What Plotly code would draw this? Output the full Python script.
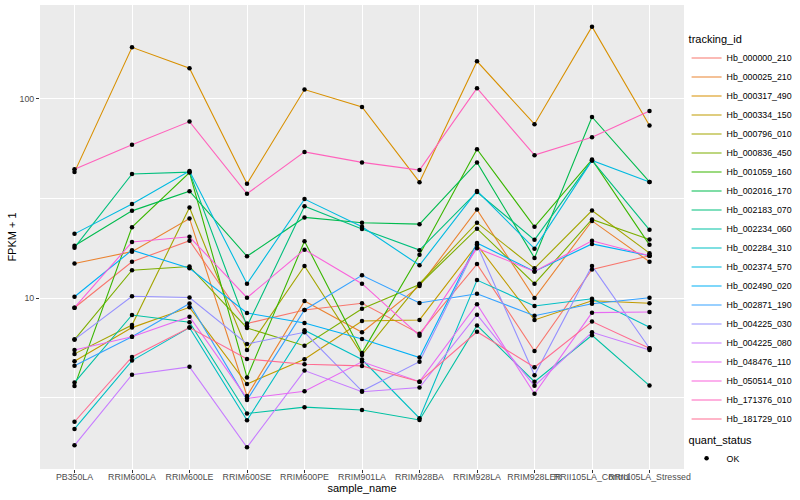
import plotly.graph_objects as go

samples = ["PB350LA", "RRIM600LA", "RRIM600LE", "RRIM600SE", "RRIM600PE", "RRIM901LA",
           "RRIM928BA", "RRIM928LA", "RRIM928LER", "RRII105LA_Control", "RRII105LA_Stressed"]

tracking_ids = ["Hb_000000_210", "Hb_000025_210", "Hb_000317_490", "Hb_000334_150", "Hb_000796_010",
                "Hb_000836_450", "Hb_001059_160", "Hb_002016_170", "Hb_002183_070", "Hb_002234_060",
                "Hb_002284_310", "Hb_002374_570", "Hb_002490_020", "Hb_002871_190", "Hb_004225_030",
                "Hb_004225_080", "Hb_048476_110", "Hb_050514_010", "Hb_171376_010", "Hb_181729_010"]

colors = ["#F8766D", "#EA8331", "#D89000", "#C09B00", "#A3A500", "#7CAE00", "#39B600", "#00BB4E",
          "#00BF7D", "#00C1A3", "#00BFC4", "#00BAE0", "#00B0F6", "#35A2FF", "#9590FF", "#C77CFF",
          "#E76BF3", "#FA62DB", "#FF62BC", "#FF6C91"]

# FPKM + 1 per sample (same order as samples)
Hb_000000_210 = [8.94, 15.2, 19.4, 7.45, 8.71, 9.41, 6.62, 14.8, 5.42, 13.9, 16.3]
Hb_000025_210 = [14.9, 17.1, 25.1, 3.22, 9.66, 6.73, 11.5, 27.8, 10.0, 24.4, 15.2]
Hb_000317_490 = [42.9, 181.7, 142.6, 37.5, 111.5, 91.2, 38.2, 154.6, 74.7, 230.8, 73.6]
Hb_000334_150 = [4.81, 7.10, 8.98, 3.70, 4.92, 7.67, 7.76, 18.5, 7.76, 9.69, 9.41]
Hb_000796_010 = [5.24, 7.32, 28.5, 5.48, 14.5, 5.18, 11.8, 23.9, 14.1, 27.5, 16.8]
Hb_000836_450 = [6.18, 13.8, 14.4, 7.07, 5.76, 8.84, 11.7, 22.3, 11.8, 24.8, 19.7]
Hb_001059_160 = [3.61, 22.7, 42.7, 3.99, 19.3, 5.30, 16.5, 55.9, 22.8, 49.6, 18.5]
Hb_002016_170 = [18.3, 27.4, 34.4, 16.2, 25.4, 23.9, 23.5, 48.0, 15.9, 81.2, 38.3]
Hb_002183_070 = [17.9, 42.0, 42.9, 7.21, 28.9, 22.2, 17.4, 34.1, 19.6, 49.1, 22.0]
Hb_002234_060 = [3.76, 8.22, 7.55, 2.63, 2.83, 2.74, 2.44, 7.28, 3.80, 6.50, 3.63]
Hb_002284_310 = [2.20, 4.85, 7.10, 2.43, 6.89, 4.91, 2.49, 12.3, 9.12, 9.92, 7.13]
Hb_002374_570 = [21.0, 29.7, 43.4, 11.8, 31.4, 22.8, 14.6, 34.5, 17.7, 49.1, 38.3]
Hb_002490_020 = [10.15, 17.4, 14.1, 8.41, 7.49, 6.23, 5.02, 18.9, 13.6, 18.7, 16.3]
Hb_002871_190 = [4.57, 6.39, 9.39, 3.07, 8.71, 13.0, 9.44, 10.5, 8.15, 9.36, 10.03]
Hb_004225_030 = [6.18, 10.2, 10.06, 5.88, 6.73, 3.41, 4.79, 18.5, 4.09, 14.5, 5.59]
Hb_004225_080 = [1.82, 4.12, 4.51, 1.78, 4.32, 3.38, 3.55, 8.24, 3.62, 6.73, 5.48]
Hb_048476_110 = [5.48, 6.39, 8.06, 3.13, 3.40, 4.78, 3.80, 9.30, 3.30, 8.44, 8.51]
Hb_050514_010 = [8.94, 19.1, 20.3, 10.03, 17.5, 11.8, 6.47, 17.8, 13.6, 19.4, 16.3]
Hb_171376_010 = [44.4, 58.8, 77.0, 33.4, 54.2, 48.0, 43.9, 113.2, 52.2, 64.2, 87.0]
Hb_181729_010 = [2.39, 5.06, 7.10, 4.94, 4.65, 4.56, 3.80, 6.77, 4.49, 7.61, 5.59]

series = [Hb_000000_210, Hb_000025_210, Hb_000317_490, Hb_000334_150, Hb_000796_010,
          Hb_000836_450, Hb_001059_160, Hb_002016_170, Hb_002183_070, Hb_002234_060,
          Hb_002284_310, Hb_002374_570, Hb_002490_020, Hb_002871_190, Hb_004225_030,
          Hb_004225_080, Hb_048476_110, Hb_050514_010, Hb_171376_010, Hb_181729_010]

quant_status = "OK"

FONT = "Liberation Sans, Arial, Helvetica, sans-serif"

fig = go.Figure()
for name, vals, col in zip(tracking_ids, series, colors):
    fig.add_trace(go.Scatter(x=samples, y=vals, mode="lines", name=name,
                             line=dict(color=col, width=1.1), legend="legend"))

all_x, all_y = [], []
for vals in series:
    all_x += samples
    all_y += vals
fig.add_trace(go.Scatter(x=all_x, y=all_y, mode="markers", name=quant_status,
                         marker=dict(color="black", size=4.5, symbol="circle"),
                         legend="legend2"))

fig.update_layout(
    width=800, height=500,
    margin=dict(l=40, r=116, t=5, b=31, autoexpand=False),
    paper_bgcolor="white", plot_bgcolor="#EBEBEB",
    font=dict(family=FONT, size=8.8, color="#4D4D4D"),
    showlegend=True,
    legend=dict(title=dict(text="tracking_id", font=dict(size=11, color="black")),
                x=1.004, y=0.948, xanchor="left", yanchor="top",
                font=dict(size=8.8, color="black"), bgcolor="rgba(0,0,0,0)",
                tracegroupgap=0, itemwidth=30),
    legend2=dict(title=dict(text="quant_status", font=dict(size=11, color="black")),
                 x=1.004, y=0.085, xanchor="left", yanchor="top",
                 font=dict(size=8.8, color="black"), bgcolor="rgba(0,0,0,0)"),
)

fig.update_xaxes(type="category", categoryorder="array", categoryarray=samples,
                 range=[-0.6, len(samples) - 0.4], tickangle=0,
                 showgrid=True, gridcolor="white", gridwidth=1.1, zeroline=False,
                 ticks="outside", ticklen=3, tickcolor="#333333", tickwidth=1,
                 tickfont=dict(size=8.8, color="#4D4D4D"), ticklabelstandoff=-4,
                 title=dict(text="sample_name", font=dict(size=11, color="black"), standoff=3),
                 automargin=False, showline=False)

fig.update_yaxes(type="log", range=[0.141, 2.472],
                 tickvals=[10, 100], ticktext=["10", "100"],
                 showgrid=True, gridcolor="white", gridwidth=1.1, zeroline=False,
                 ticks="outside", ticklen=3, tickcolor="#333333", tickwidth=1,
                 tickfont=dict(size=8.8, color="#4D4D4D"),
                 minor=dict(tickvals=[10 ** 0.5, 10 ** 1.5], showgrid=True,
                            gridcolor="white", gridwidth=0.5, ticks=""),
                 title=dict(text="FPKM + 1", font=dict(size=11, color="black"), standoff=0),
                 automargin=False, showline=False)

fig.write_html("out.html", config={"displayModeBar": False},
               post_script="document.body.style.margin='0px';document.body.style.overflow='hidden';")
